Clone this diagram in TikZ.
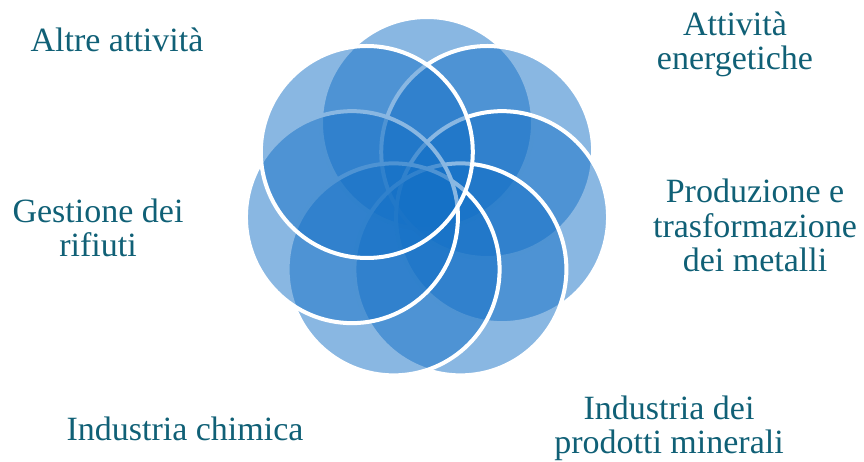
\documentclass[tikz,border=0pt]{standalone}
\usepackage{fontspec}
\setmainfont{Liberation Serif}
\definecolor{petalblue}{RGB}{20,112,198}
\definecolor{labelteal}{RGB}{16,96,118}
\begin{document}
\begin{tikzpicture}[
	x=1pt, y=-1pt,
	petal/.style={circle, minimum size=212pt, inner sep=0pt, fill=petalblue, fill opacity=0.5, draw=white, line width=4pt},
	sector/.style={text=labelteal, align=center, anchor=base, inner sep=0pt, font=\fontsize{34}{34}\selectfont},
]
\useasboundingbox (0,0) rectangle (864,462);
% seven petals, drawn clockwise from the top one
\foreach \i/\a in {1/90, 2/38.57, 3/-12.86, 4/-64.29, 5/-115.71, 6/-167.14, 7/-218.57}
	\node[petal] (p\i) at ({427+77*cos(\a)}, {200-77*sin(\a)}) {};
% labels, placed at the baseline of their last line
\node[sector] (altre) at (117,52) {Altre attività};
\node[sector] (energia) at (735,70) {Attività \\ energetiche};
\node[sector] (metalli) at (755,271) {Produzione e \\ trasformazione \\ dei metalli};
\node[sector] (rifiuti) at (98,257) {Gestione dei \\ rifiuti};
\node[sector] (chimica) at (185,440) {Industria chimica};
\node[sector] (minerali) at (669,453) {Industria dei \\ prodotti minerali};
\end{tikzpicture}
\end{document}
